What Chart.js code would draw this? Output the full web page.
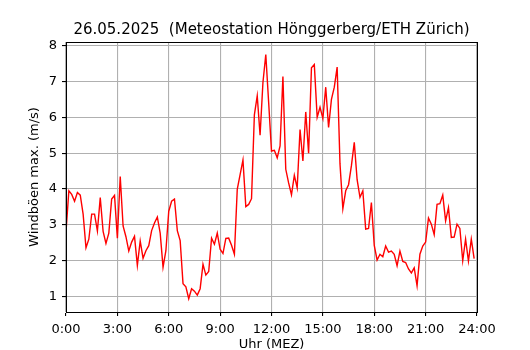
<!DOCTYPE html>
<html>
<head>
<meta charset="utf-8">
<script src="https://cdn.jsdelivr.net/npm/chart.js@4"></script>
<style>
  body { margin: 0; background: #fff; }
  canvas { display: block; }
</style>
</head>
<body>
<canvas id="windChart" width="530" height="350"></canvas>
<script>
// Windböen max. (m/s), 10-Minuten-Werte ab 0:00
const stepMinutes = 10;
const gustValues = [
    2.8, 3.95, 3.85, 3.66, 3.9, 3.83, 3.3, 2.36, 2.6, 3.3,
    3.3, 2.83, 3.76, 2.82, 2.48, 2.77, 3.72, 3.82, 2.63, 4.35,
    2.97, 2.67, 2.27, 2.52, 2.68, 1.87, 2.55, 2.07, 2.28, 2.42,
    2.84, 3.05, 3.22, 2.77, 1.82, 2.28, 3.38, 3.66, 3.72, 2.84,
    2.56, 1.36, 1.27, 0.94, 1.22, 1.15, 1.04, 1.22, 1.9, 1.6,
    1.7, 2.63, 2.46, 2.77, 2.32, 2.2, 2.62, 2.63, 2.43, 2.18,
    3.99, 4.4, 4.81, 3.51, 3.57, 3.73, 6.07, 6.6, 5.5, 6.97,
    7.75, 6.42, 5.06, 5.08, 4.87, 5.2, 7.14, 4.55, 4.17, 3.84,
    4.38, 4.03, 5.66, 4.78, 6.15, 5.0, 7.38, 7.47, 6.0, 6.28,
    5.97, 6.84, 5.72, 6.5, 6.84, 7.4, 4.7, 3.45, 3.95, 4.12,
    4.65, 5.3, 4.26, 3.77, 3.95, 2.88, 2.9, 3.62, 2.43, 2.02,
    2.18, 2.11, 2.41, 2.24, 2.27, 2.18, 1.86, 2.27, 1.98, 1.95,
    1.77, 1.66, 1.8, 1.3, 2.18, 2.41, 2.52, 3.19, 3.02, 2.73,
    3.57, 3.59, 3.83, 3.11, 3.48, 2.65, 2.66, 3.02, 2.9, 2.0,
    2.6, 1.99, 2.6, 2.06
];
const xTickHours = [0, 3, 6, 9, 12, 15, 18, 21, 24];
const yTickValues = [1, 2, 3, 4, 5, 6, 7, 8];

const titleText = '26.05.2025  (Meteostation Hönggerberg/ETH Zürich)';
const fontFamily = '"DejaVu Sans", sans-serif';

// Punkte mit Zeit in Stunden
const points = gustValues.map((v, i) => ({ x: i * stepMinutes / 60, y: v }));

// Rahmen um den Plotbereich (wie matplotlib spines)
const frameBox = {
    id: 'frameBox',
    afterDraw(chart) {
        const { ctx, chartArea: a } = chart;
        ctx.save();
        ctx.strokeStyle = '#000';
        ctx.lineWidth = 1;
        ctx.strokeRect(Math.round(a.left) + 0.5, Math.round(a.top) + 0.5,
            Math.round(a.right - a.left), Math.round(a.bottom - a.top));
        ctx.restore();
    }
};

new Chart(document.getElementById('windChart').getContext('2d'), {
    type: 'line',
    data: {
        datasets: [{
            data: points,
            borderColor: '#ff0000',
            borderWidth: 1.4,
            pointRadius: 0,
            tension: 0,
            fill: false
        }]
    },
    options: {
        responsive: false,
        animation: false,
        events: [],
        layout: { padding: { left: 0, right: 53, top: 0, bottom: 0 } },
        plugins: {
            legend: { display: false },
            tooltip: { enabled: false },
            title: {
                display: true,
                fullSize: false,
                text: titleText,
                color: '#000',
                font: { family: fontFamily, size: 15, weight: 'normal' },
                padding: { top: 21, bottom: 3 }
            }
        },
        scales: {
            x: {
                type: 'linear',
                min: 0,
                max: 24,
                afterFit: s => { s.height = 38; },
                afterBuildTicks: axis => { axis.ticks = xTickHours.map(h => ({ value: h })); },
                ticks: {
                    color: '#000',
                    font: { family: fontFamily, size: 13 },
                    padding: 6,
                    maxRotation: 0,
                    autoSkip: false,
                    callback: v => v + ':00'
                },
                grid: { color: '#b0b0b0', lineWidth: 1.1, tickLength: 4, tickColor: '#000' },
                border: { color: '#000', width: 1 },
                title: {
                    display: true,
                    text: 'Uhr (MEZ)',
                    color: '#000',
                    font: { family: fontFamily, size: 13, lineHeight: 1 },
                    padding: { top: 0, bottom: -1 }
                }
            },
            y: {
                min: 0.57,
                max: 8.1,
                afterFit: s => { s.width = 66; },
                afterBuildTicks: axis => { axis.ticks = yTickValues.map(v => ({ value: v })); },
                ticks: {
                    color: '#000',
                    font: { family: fontFamily, size: 13 },
                    padding: 5
                },
                grid: { color: '#b0b0b0', lineWidth: 1.1, tickLength: 4, tickColor: '#000' },
                border: { color: '#000', width: 1 },
                title: {
                    display: true,
                    text: 'Windböen max. (m/s)',
                    color: '#000',
                    font: { family: fontFamily, size: 13 },
                    padding: { top: 27, bottom: 0 }
                }
            }
        }
    },
    plugins: [frameBox]
});
</script>
</body>
</html>
